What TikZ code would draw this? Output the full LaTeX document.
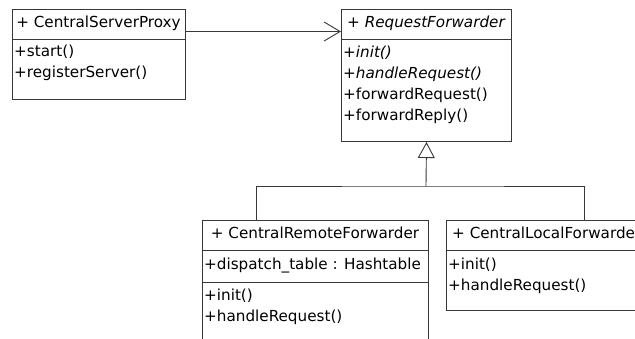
\documentclass[tikz,border=0pt]{standalone}
\usepackage{fontspec}
\setmainfont{DejaVu Sans}
\usetikzlibrary{arrows.meta}

\begin{document}
\begin{tikzpicture}[x=1pt,y=-1pt,
  umlbox/.style={draw=black!78, line width=1pt, inner sep=0pt, anchor=north west},
  sepline/.style={draw=black!78, line width=1pt},
  link/.style={draw=black!78, line width=0.9pt},
  lbl/.style={inner sep=0pt, font=\fontsize{15.2}{18}\selectfont, text height=10.5pt, text depth=3pt},
  op/.style={lbl, anchor=west},
  abstractop/.style={op, font=\fontsize{15.2}{18}\selectfont\itshape}]
\useasboundingbox (0,0) rectangle (635,338);
\fill[white] (0,0) rectangle (635,338);
\clip (0,0) rectangle (635,338);

% ---- CentralServerProxy ----
\node[umlbox, minimum width=173pt, minimum height=90pt] (proxy) at (12,9) {};
\draw[sepline] (12,39) -- (185,39);
\node[lbl] (proxyname) at (98.5,24) {+ CentralServerProxy};
\node[op] (proxyop1) at (14,53) {+start()};
\node[op] (proxyop2) at (14,74) {+registerServer()};

% ---- RequestForwarder (abstract) ----
\node[umlbox, minimum width=170pt, minimum height=132pt] (rf) at (341,9) {};
\draw[sepline] (341,39) -- (511,39);
\node[lbl, font=\fontsize{15.2}{18}\selectfont\itshape] (rfname) at (426,24) {+ RequestForwarder};
\node[abstractop] (rfop1) at (343,54) {+init()};
\node[abstractop] (rfop2) at (343,75) {+handleRequest()};
\node[op] (rfop3) at (343,96) {+forwardRequest()};
\node[op] (rfop4) at (343,117) {+forwardReply()};

% ---- CentralRemoteForwarder ----
\node[umlbox, minimum width=226pt, minimum height=130pt] (rem) at (202,220) {};
\draw[sepline] (202,250) -- (428,250);
\draw[sepline] (202,282) -- (428,282);
\node[lbl] (remname) at (315,235) {+ CentralRemoteForwarder};
\node[op] (remattr) at (204,266) {+dispatch\_table : Hashtable};
\node[op] (remop1) at (204,297) {+init()};
\node[op] (remop2) at (204,318) {+handleRequest()};

% ---- CentralLocalForwarder ----
\node[umlbox, minimum width=260pt, minimum height=90pt] (loc) at (446,220) {};
\draw[sepline] (446,250) -- (706,250);
\node[op] (locname) at (452,235) {+ CentralLocalForwarder};
\node[op] (locop1) at (448,266) {+init()};
\node[op] (locop2) at (448,287) {+handleRequest()};

% ---- association ----
\draw[link, -{Straight Barb[length=16pt,width=19pt,line width=0.9pt]}]
  ([yshift=23pt]proxy.east) -- ([yshift=44pt]rf.west);

% ---- generalisation ----
\coordinate (gen) at (426,186);
\coordinate (remtop) at (256,220);
\coordinate (loctop) at (584,220);
\draw[link] (remtop) |- (gen) -| (loctop);
\draw[link, -{Triangle[open,length=16pt,width=17pt,fill=white]}] (gen) -- (rf.south);
\end{tikzpicture}
\end{document}
